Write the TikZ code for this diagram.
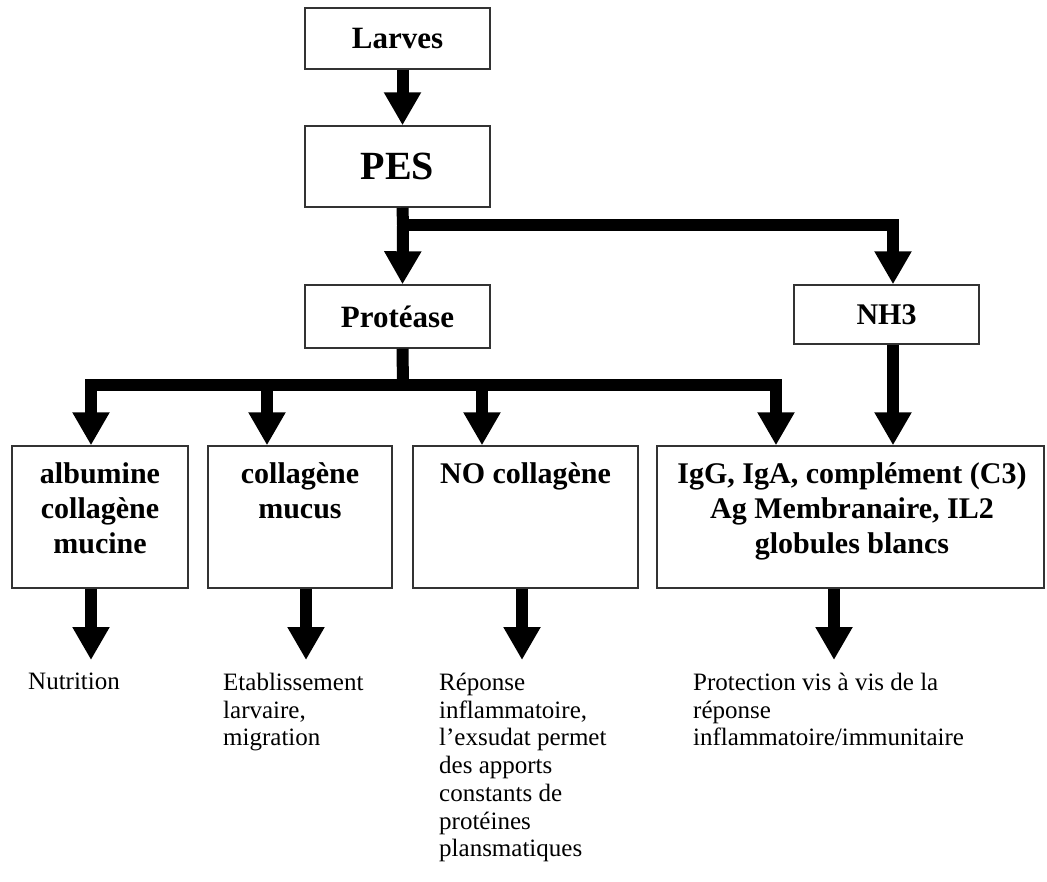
\documentclass[tikz,border=0pt]{standalone}
\usepackage{fontspec}
\setmainfont{Liberation Serif}
\usetikzlibrary{arrows.meta}
\begin{document}
\begin{tikzpicture}[x=1pt,y=-1pt,
  box/.style={draw=black!80, line width=1.4pt, inner sep=0pt},
  fat/.style={line width=12pt, -{Triangle[length=33pt,width=35pt]}},
  bar/.style={line width=12pt},
  btext/.style={font=\fontsize{30}{35}\selectfont\bfseries, align=center, anchor=north, inner sep=0pt},
  ltext/.style={font=\fontsize{25}{27.7}\selectfont, align=left, anchor=north west, inner sep=0pt}]
\useasboundingbox (0,0) rectangle (1047,881);
% top boxes
\node[box, minimum width=185pt, minimum height=61pt, font=\fontsize{31}{36}\selectfont\bfseries] (larves) at (397.5,38.5) {Larves};
\node[box, minimum width=185pt, minimum height=81pt, font=\fontsize{40}{48}\selectfont\bfseries] (pes) at (397.5,166.5) {PES};
\node[box, minimum width=185pt, minimum height=63pt, font=\fontsize{31}{36}\selectfont\bfseries] (prot) at (397.5,316.5) {Protéase};
\node[box, minimum width=185pt, minimum height=59pt, font=\fontsize{30}{36}\selectfont\bfseries] (nh3) at (886.5,314.5) {NH3};
% bottom boxes
\node[box, minimum width=176pt, minimum height=142pt] (b1) at (100,517) {};
\node[box, minimum width=184pt, minimum height=142pt] (b2) at (300,517) {};
\node[box, minimum width=225pt, minimum height=142pt] (b3) at (525.5,517) {};
\node[box, minimum width=387pt, minimum height=142pt] (b4) at (850.5,517) {};
\node[btext] (t1) at (100,462) {albumine\\collagène\\mucine};
\node[btext] (t2) at (300,462) {collagène\\mucus};
\node[btext] (t3) at (525.5,462) {NO collagène};
\node[btext] (t4) at (852,462) {IgG, IgA, complément (C3)\\Ag Membranaire, IL2\\globules blancs};
% result texts
\node[ltext] (r1) at (28,673) {Nutrition};
\node[ltext] (r2) at (223,673) {Etablissement\\larvaire,\\migration};
\node[ltext] (r3) at (439,673) {Réponse\\inflammatoire,\\l’exsudat permet\\des apports\\constants de\\protéines\\plansmatiques};
\node[ltext] (r4) at (693,673) {Protection vis à vis de la\\réponse\\inflammatoire/immunitaire};
% connectors level 0/1
\draw[fat] ([xshift=5pt]larves.south) -- ([xshift=5pt]pes.north);
\coordinate (j1) at (403,225);
\draw[bar] ([xshift=5pt]pes.south) -- (j1);
\draw[fat] (j1) -- ([xshift=5pt]prot.north);
\draw[fat] (j1) -| ([xshift=6.5pt]nh3.north);
% level 2
\coordinate (j2) at (403,385);
\coordinate (k1) at (91,385);
\coordinate (k2) at (267,385);
\coordinate (k3) at (482,385);
\coordinate (k4) at (776,385);
\draw[bar] ([xshift=5pt]prot.south) -- (j2);
\draw[fat] (j2) -| (k1 |- b1.north);
\draw[fat] (j2) -| (k4 |- b4.north);
\draw[fat] (k2) -- (k2 |- b2.north);
\draw[fat] (k3) -- (k3 |- b3.north);
\coordinate (nx) at ([xshift=6.5pt]nh3.south);
\draw[fat] (nx) -- (nx |- b4.north);
% level 3
\coordinate (o1) at (91,660);
\coordinate (o2) at (306,660);
\coordinate (o3) at (522,660);
\coordinate (o4) at (834,660);
\draw[fat] (o1 |- b1.south) -- (o1);
\draw[fat] (o2 |- b2.south) -- (o2);
\draw[fat] (o3 |- b3.south) -- (o3);
\draw[fat] (o4 |- b4.south) -- (o4);
\end{tikzpicture}
\end{document}
